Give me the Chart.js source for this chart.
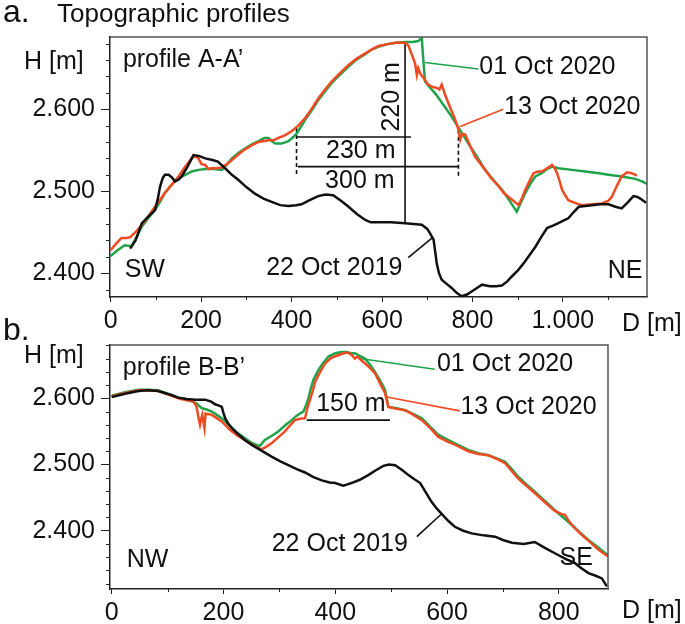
<!DOCTYPE html>
<html>
<head>
<meta charset="utf-8">
<script src="https://cdn.jsdelivr.net/npm/chart.js@4"></script>
<style>
body{margin:0;background:#fff;width:685px;height:624px;position:relative;overflow:hidden}
canvas{position:absolute;left:0}
#ca{top:0}
#cb{top:318px}
</style>
</head>
<body>
<canvas id="ca" width="685" height="336"></canvas>
<canvas id="cb" width="685" height="306"></canvas>
<script>
// PROFILE A-A'  (distance D [m], height H [m])
const a2019D = [43,55,69,85,98,104,109,115,120,128,135,142,150,157,170,183,195,209,225,237,253,268,282,300,319,338,356,375,393,410,422,440,459,475,492,510,526,545,563,575,592,620,651,670,688,700,706,714,718,721,726,732,743,754,765,776,788,799,810,821,830,839,852,865,877,887,900,913,926,939,952,965,978,990,1001,1012,1023,1035,1050,1064,1082,1101,1116,1130,1143,1156,1165,1171,1184];
const a2019H = [2430,2440,2461,2470,2477,2490,2505,2516,2520,2520,2517,2512,2514,2518,2530,2544,2543,2540,2538,2536,2528,2520,2514,2505,2497,2491,2487,2483,2482,2483,2484,2489,2494,2496,2495,2488,2481,2472,2465,2462,2462,2462,2461,2460,2459,2454,2449,2441,2425,2412,2400,2392,2387,2382,2376,2372,2374,2378,2382,2386,2385,2384,2384,2385,2390,2396,2403,2412,2422,2432,2444,2455,2458,2461,2464,2467,2474,2481,2482,2483,2484,2484,2481,2479,2486,2494,2493,2491,2486];

const a01D = [0,15,31,46,58,69,84,98,110,120,135,150,165,179,195,209,228,246,256,268,283,297,312,327,340,349,356,364,378,393,404,412,420,430,445,459,474,489,507,526,545,563,578,592,610,630,651,668,680,686,688,690,692,695,705,718,736,754,772,791,810,828,846,865,880,898,907,917,928,939,953,965,976,990,1020,1050,1080,1101,1130,1160,1175,1186];
const a01H = [2421,2428,2434,2433,2445,2457,2468,2477,2488,2498,2508,2516,2520,2524,2526,2527,2527,2526,2532,2540,2547,2552,2557,2561,2565,2565,2561,2558,2558,2561,2566,2571,2578,2587,2599,2611,2622,2632,2642,2652,2661,2667,2673,2676,2679,2681,2682,2682,2683,2686,2687,2670,2656,2634,2627,2619,2605,2591,2575,2558,2542,2526,2514,2502,2490,2475,2486,2498,2509,2518,2522,2527,2530,2528,2526,2524,2522,2520,2518,2515,2512,2509];

const a13D = [0,12,24,36,43,55,69,84,98,110,120,135,150,165,179,186,194,201,209,216,223,235,246,257,268,283,297,312,327,349,360,371,385,400,415,430,445,459,474,489,507,526,545,563,578,592,610,630,651,658,665,673,677,680,685,692,702,712,721,727,732,740,750,762,768,773,777,784,795,806,817,828,843,858,869,880,891,902,910,917,926,935,945,954,965,976,982,987,993,998,1005,1012,1025,1042,1065,1086,1100,1108,1118,1130,1142,1152,1164];
const a13H = [2428,2436,2443,2443,2444,2450,2459,2470,2481,2490,2498,2508,2518,2530,2540,2543,2540,2533,2532,2527,2528,2528,2529,2533,2538,2545,2551,2556,2560,2562,2562,2565,2568,2573,2580,2589,2601,2613,2624,2634,2644,2654,2662,2668,2673,2677,2679,2681,2681,2678,2668,2656,2642,2650,2643,2638,2630,2627,2626,2624,2630,2617,2603,2587,2577,2563,2570,2569,2555,2542,2534,2526,2515,2506,2498,2493,2488,2483,2492,2502,2512,2522,2524,2524,2528,2532,2528,2522,2512,2502,2495,2489,2486,2483,2484,2485,2488,2493,2505,2518,2523,2522,2519];

// PROFILE B-B'
const b2019D = [0,24,48,65,83,95,107,119,134,149,167,178,185,192,197,200,203,209,215,226,238,250,262,274,286,301,316,331,346,361,376,390,400,414,422,429,444,459,472,486,496,507,519,531,541,552,562,572,581,590,602,614,629,644,665,686,700,716,737,757,775,793,811,829,841,853,866,877,886];
const b2019H = [2602,2607,2611,2612,2611,2608,2605,2601,2599,2598,2598,2595,2591,2589,2587,2578,2570,2561,2555,2546,2537,2530,2524,2518,2512,2505,2499,2493,2488,2481,2476,2473,2472,2468,2470,2472,2477,2484,2491,2498,2500,2499,2492,2484,2478,2472,2458,2444,2434,2426,2415,2406,2400,2396,2393,2391,2386,2382,2380,2383,2374,2366,2358,2351,2343,2336,2332,2328,2316];

const b01D = [0,24,48,65,83,100,119,131,143,152,161,170,179,188,197,212,226,238,250,258,265,270,274,286,298,310,322,330,337,343,348,352,356,361,370,378,388,400,411,420,429,435,444,453,462,471,480,489,492,495,510,525,540,555,570,584,600,614,626,638,656,674,690,704,715,727,742,757,775,793,808,823,838,853,870,888];
const b01H = [2604,2609,2613,2613,2612,2607,2601,2599,2596,2592,2585,2583,2580,2575,2570,2558,2547,2540,2533,2530,2528,2533,2537,2543,2550,2559,2567,2573,2577,2580,2590,2600,2614,2628,2643,2653,2663,2668,2670,2670,2668,2668,2664,2660,2651,2640,2627,2613,2600,2587,2585,2582,2576,2570,2557,2545,2538,2532,2527,2522,2517,2514,2509,2504,2494,2482,2470,2459,2445,2431,2420,2409,2397,2386,2375,2363];

const b13D = [0,24,48,65,83,100,119,134,146,150,152,155,158,160,162,164,166,168,179,188,197,212,226,238,250,260,268,277,286,298,310,320,328,337,346,350,355,360,364,373,382,393,405,415,423,430,435,440,447,453,462,471,480,489,492,495,510,525,540,555,570,584,600,614,626,638,656,674,690,704,715,727,742,757,775,793,805,811,817,823,838,853,870,888];
const b13H = [2603,2608,2612,2612,2611,2606,2600,2597,2595,2590,2587,2572,2560,2568,2575,2565,2555,2577,2575,2570,2565,2552,2543,2537,2531,2526,2523,2527,2532,2541,2550,2560,2567,2569,2570,2585,2598,2612,2625,2640,2653,2661,2665,2668,2669,2665,2660,2663,2657,2653,2646,2638,2623,2608,2598,2587,2584,2582,2575,2567,2555,2542,2535,2530,2525,2520,2516,2514,2508,2502,2491,2479,2468,2457,2443,2430,2425,2424,2416,2409,2396,2385,2372,2361];

// axis ranges and ticks
const aRange = {xMin: -1.5, xMax: 1186, yMin: 2371, yMax: 2688};
const bRange = {xMin: -3, xMax: 888, yMin: 2312, yMax: 2680.5};
const aXTicks = [0, 200, 400, 600, 800, 1000];
const bXTicks = [0, 200, 400, 600, 800];
const hTicks = [2400, 2500, 2600];

const GREEN = '#1fa34a';
const RED = '#f04a22';
const BLACK = '#111';
const FONT = "'Liberation Sans', Arial, sans-serif";
const FS = 25;

// annotation lines: [D1,H1,D2,H2]
const aNotes = [
    {p: [651,2681,651,2462], c: BLACK},
    {p: [412,2566,664,2566], c: BLACK},
    {p: [414,2530,769,2530], c: BLACK},
    {p: [411,2577,411,2518], c: BLACK, dash: [4,3]},
    {p: [769,2575,769,2518], c: BLACK, dash: [4,3]},
    {p: [695,2657,813,2649], c: GREEN},
    {p: [773,2579,868,2600], c: RED},
    {p: [658,2419,713,2444], c: BLACK}
];
const bNotes = [
    {p: [349,2567,498,2567], c: BLACK},
    {p: [444,2660,578,2644], c: GREEN},
    {p: [492,2602,623,2581], c: RED},
    {p: [546,2391,591,2426], c: BLACK}
];

// text at data positions: [text, D, H, align, rotate]
const aTexts = [
    ['profile A-A\u2019', 27, 2660, 'left'],
    ['SW', 31, 2404, 'left'],
    ['NE', 1176, 2402, 'right'],
    ['22 Oct 2019', 645, 2406, 'right'],
    ['01 Oct 2020', 815, 2651, 'left'],
    ['13 Oct 2020', 870, 2602, 'left'],
    ['220 m', 622, 2615, 'center', true],
    ['230 m', 553, 2549, 'center'],
    ['300 m', 551, 2512, 'center']
];
const bTexts = [
    ['profile B-B\u2019', 20, 2646, 'left'],
    ['NW', 27, 2356, 'left'],
    ['SE', 861, 2359, 'right'],
    ['22 Oct 2019', 530, 2380, 'right'],
    ['01 Oct 2020', 582, 2652, 'left'],
    ['13 Oct 2020', 624, 2587, 'left'],
    ['150 m', 428, 2591, 'center']
];

function pts(xs, ys) {
    return xs.map((x, i) => ({x: x, y: ys[i]}));
}

function fmt(v) {
    const s = String(v);
    return v >= 1000 ? s.slice(0, s.length - 3) + '.' + s.slice(-3) : s;
}

function makeChart(id, cfg) {
    const datasets = [
        {data: pts(cfg.d2019[0], cfg.d2019[1]), borderColor: BLACK, borderWidth: 2.5},
        {data: pts(cfg.d13[0], cfg.d13[1]), borderColor: RED, borderWidth: 2.5},
        {data: pts(cfg.d01[0], cfg.d01[1]), borderColor: GREEN, borderWidth: 2.5}
    ];
    cfg.notes.forEach(n => {
        datasets.push({
            data: [{x: n.p[0], y: n.p[1]}, {x: n.p[2], y: n.p[3]}],
            borderColor: n.c, borderWidth: 1.6, borderDash: n.dash || []
        });
    });
    datasets.forEach(d => { d.pointRadius = 0; d.tension = 0; d.fill = false; });

    const decor = {
        id: 'decor',
        afterDraw(chart) {
            const ctx = chart.ctx, ca = chart.chartArea;
            const xs = chart.scales.x, ys = chart.scales.y;
            ctx.save();
            // frame
            ctx.strokeStyle = '#555';
            ctx.lineWidth = 1.5;
            ctx.beginPath();
            ctx.moveTo(ca.left, ca.top); ctx.lineTo(ca.right, ca.top); ctx.lineTo(ca.right, ca.bottom);
            ctx.stroke();
            // minor ticks
            ctx.strokeStyle = '#222';
            ctx.lineWidth = 1;
            ctx.beginPath();
            for (let v = Math.ceil(ys.min / 20) * 20; v <= ys.max; v += 20) {
                if (v % 100 === 0) continue;
                const y = Math.round(ys.getPixelForValue(v)) + 0.5;
                ctx.moveTo(ca.left, y); ctx.lineTo(ca.left - 4, y);
            }
            for (let v = 100; v <= xs.max; v += 200) {
                const x = Math.round(xs.getPixelForValue(v)) + 0.5;
                ctx.moveTo(x, ca.bottom); ctx.lineTo(x, ca.bottom + 3);
            }
            ctx.stroke();
            // texts
            ctx.fillStyle = '#111';
            ctx.textBaseline = 'middle';
            ctx.font = FS + 'px ' + FONT;
            cfg.texts.forEach(t => {
                const x = xs.getPixelForValue(t[1]), y = ys.getPixelForValue(t[2]);
                ctx.textAlign = t[3];
                if (t[4]) {
                    ctx.save();
                    ctx.translate(x, y);
                    ctx.rotate(-Math.PI / 2);
                    ctx.textAlign = 'center';
                    ctx.fillText(t[0], 0, 0);
                    ctx.restore();
                } else {
                    ctx.fillText(t[0], x, y);
                }
            });
            // titles
            ctx.textBaseline = 'alphabetic';
            ctx.textAlign = 'left';
            ctx.font = '32px ' + FONT;
            ctx.fillText(cfg.letter, 3, cfg.letterY);
            ctx.font = '26px ' + FONT;
            if (cfg.title) ctx.fillText(cfg.title, 57, cfg.letterY);
            ctx.font = FS + 'px ' + FONT;
            ctx.fillText('H [m]', 24, cfg.hY);
            ctx.fillText('D [m]', 622, cfg.dY);
            ctx.restore();
        }
    };

    return new Chart(document.getElementById(id), {
        type: 'line',
        data: {datasets: datasets},
        options: {
            responsive: false,
            animation: false,
            events: [],
            layout: {padding: cfg.pad},
            plugins: {legend: {display: false}, tooltip: {enabled: false}},
            scales: {
                x: {
                    type: 'linear', min: cfg.range.xMin, max: cfg.range.xMax,
                    border: {display: true, color: '#222', width: 1.5},
                    grid: {display: true, drawOnChartArea: false, tickLength: 5, color: '#222'},
                    ticks: {autoSkip: false, maxRotation: 0,
                        padding: 4, color: '#111', font: {family: FONT, size: FS}, callback: fmt},
                    afterBuildTicks: s => { s.ticks = cfg.xTicks.map(v => ({value: v})); },
                    afterFit: s => { s.height = cfg.xH; }
                },
                y: {
                    type: 'linear', min: cfg.range.yMin, max: cfg.range.yMax,
                    border: {display: true, color: '#222', width: 1.5},
                    grid: {display: true, drawOnChartArea: false, tickLength: 9, color: '#222'},
                    ticks: {autoSkip: false, padding: 6, color: '#111',
                        font: {family: FONT, size: FS}, callback: fmt},
                    afterBuildTicks: s => { s.ticks = hTicks.map(v => ({value: v})); },
                    afterFit: s => { s.width = 110; }
                }
            }
        },
        plugins: [decor]
    });
}

makeChart('ca', {
    d2019: [a2019D, a2019H], d01: [a01D, a01H], d13: [a13D, a13H],
    range: aRange, notes: aNotes, texts: aTexts, xTicks: aXTicks,
    pad: {top: 37, right: 38, left: 0, bottom: 0}, xH: 39,
    letter: 'a.', title: 'Topographic profiles', letterY: 22, hY: 69, dY: 331
});
makeChart('cb', {
    d2019: [b2019D, b2019H], d01: [b01D, b01H], d13: [b13D, b13H],
    range: bRange, notes: bNotes, texts: bTexts, xTicks: bXTicks,
    pad: {top: 27, right: 77, left: 0, bottom: 0}, xH: 35,
    letter: 'b.', title: '', letterY: 22, hY: 45, dY: 300
});
</script>
</body>
</html>
